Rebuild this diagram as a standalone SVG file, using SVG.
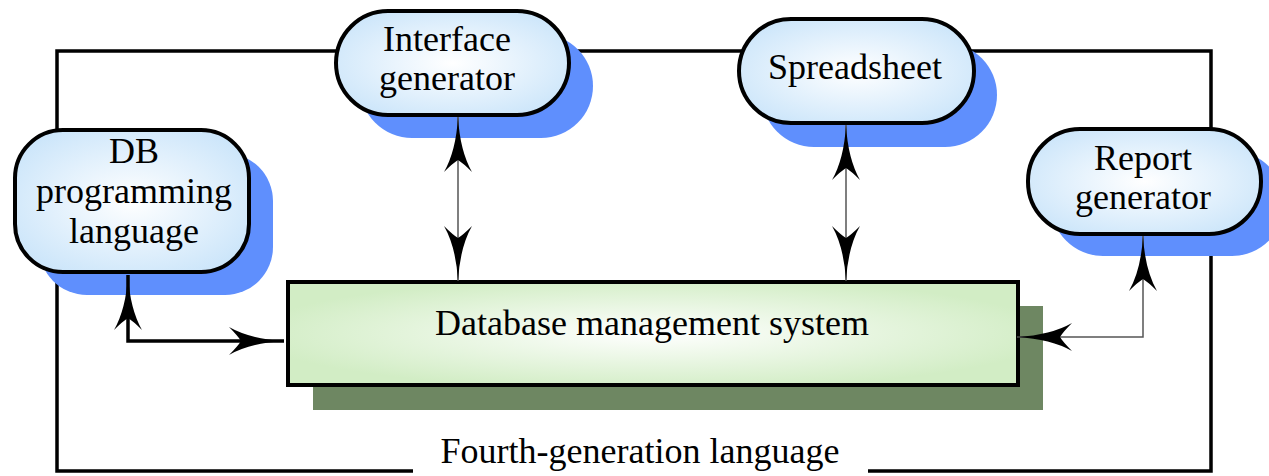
<svg xmlns="http://www.w3.org/2000/svg" width="1269" height="476" viewBox="0 0 1269 476">
<defs>
<radialGradient id="gBlue" cx="50%" cy="50%" r="60%">
<stop offset="0" stop-color="#ffffff"/>
<stop offset="1" stop-color="#cbe5fa"/>
</radialGradient>
<radialGradient id="gGreen" cx="50%" cy="50%" r="55%">
<stop offset="0" stop-color="#ffffff"/>
<stop offset="1" stop-color="#d2edc5"/>
</radialGradient>
<marker id="ah" markerUnits="userSpaceOnUse" viewBox="-60 -16 62 32" refX="0" refY="0" markerWidth="62" markerHeight="32" orient="auto-start-reverse">
<path d="M0,0 Q-34,2 -55,14 Q-46,5 -43,0 Q-46,-5 -55,-14 Q-34,-2 0,0 Z" fill="#000"/>
</marker>
<style>
.frame{fill:none;stroke:#000;stroke-width:3.5}
.shadow{fill:#5f8ffd}
.node{fill:url(#gBlue);stroke:#000;stroke-width:4}
.lbl{font-family:"Liberation Serif","Times New Roman",serif;font-size:36px;fill:#000;text-anchor:middle}
.thin{fill:none;stroke:#555;stroke-width:1.5}
.thick{fill:none;stroke:#000;stroke-width:3.5}
</style>
</defs>
<rect width="1269" height="476" fill="#fff"/>
<g id="frame">
<path class="frame" d="M413,471 H57 V51 H1211 V471 H868"/>
<text class="lbl" x="640" y="463">Fourth-generation language</text>
</g>
<g id="dbms">
<rect x="313" y="306" width="730" height="104" fill="#6e8762"/>
<rect x="288" y="282" width="730" height="103" fill="url(#gGreen)" stroke="#000" stroke-width="4"/>
<text class="lbl" x="652" y="335">Database management system</text>
</g>
<g id="db-programming">
<rect class="shadow" x="39" y="153" width="234" height="142" rx="48"/>
<rect class="node" x="15" y="130" width="234" height="142" rx="48"/>
<text class="lbl" x="134" y="163">DB</text>
<text class="lbl" x="134" y="203">programming</text>
<text class="lbl" x="134" y="243">language</text>
</g>
<g id="interface-generator">
<rect class="shadow" x="360" y="34" width="233" height="104" rx="52"/>
<rect class="node" x="336" y="11" width="233" height="104" rx="52"/>
<text class="lbl" x="447" y="51">Interface</text>
<text class="lbl" x="447" y="90">generator</text>
</g>
<g id="spreadsheet">
<rect class="shadow" x="762" y="43" width="235" height="104" rx="52"/>
<rect class="node" x="739" y="19" width="235" height="104" rx="52"/>
<text class="lbl" x="855" y="79">Spreadsheet</text>
</g>
<g id="report-generator">
<rect class="shadow" x="1051" y="151" width="233" height="105" rx="52"/>
<rect class="node" x="1028" y="129" width="233" height="105" rx="52"/>
<text class="lbl" x="1143" y="170">Report</text>
<text class="lbl" x="1143" y="209">generator</text>
</g>
<g id="connectors">
<path class="thin" d="M458,117 V281" marker-start="url(#ah)" marker-end="url(#ah)"/>
<path class="thin" d="M846,125 V281" marker-start="url(#ah)" marker-end="url(#ah)"/>
<path class="thick" d="M128,275 V341 H284" marker-start="url(#ah)" marker-end="url(#ah)"/>
<path class="thin" d="M1143,236 V337 H1017" marker-start="url(#ah)" marker-end="url(#ah)"/>
</g>
</svg>
